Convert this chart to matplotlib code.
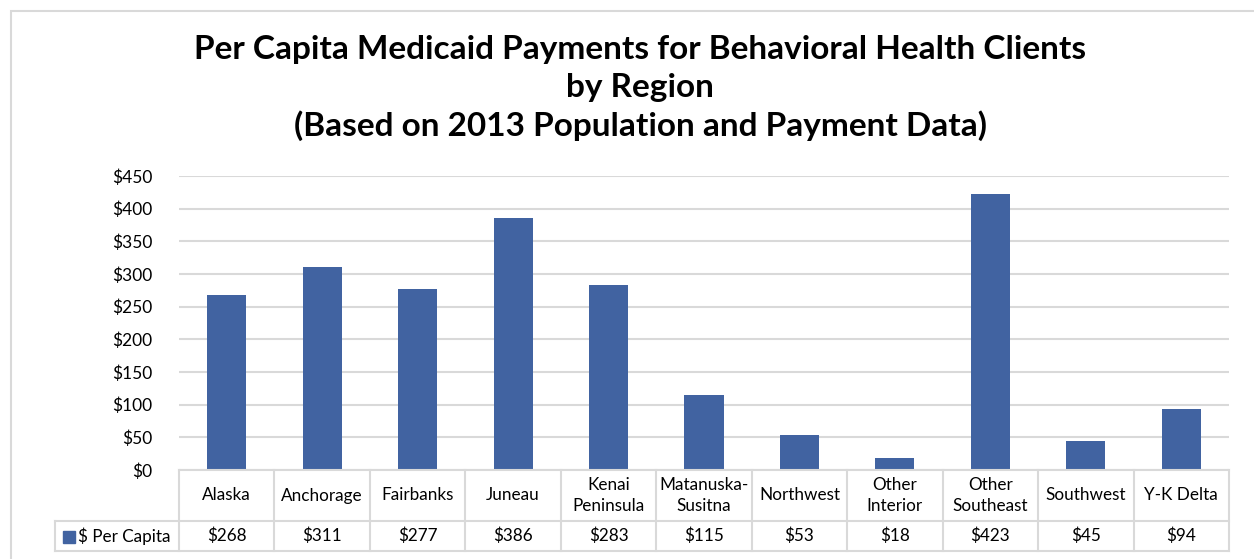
import matplotlib
matplotlib.use("Agg")
import matplotlib.pyplot as plt
from matplotlib.patches import Rectangle
from matplotlib.lines import Line2D

categories = ["Alaska", "Anchorage", "Fairbanks", "Juneau", "Kenai\nPeninsula",
              "Matanuska-\nSusitna", "Northwest", "Other\nInterior", "Other\nSoutheast",
              "Southwest", "Y-K Delta"]
values = [268, 311, 277, 386, 283, 115, 53, 18, 423, 45, 94]
series_name = "$ Per Capita"
yticks = [0, 50, 100, 150, 200, 250, 300, 350, 400, 450]

W, H = 1254, 559
BAR = "#4163A1"
GRID = "#d9d9d9"
FONT = ["Lato", "DejaVu Sans"]
plt.rcParams["font.family"] = FONT

fig = plt.figure(figsize=(W / 100, H / 100), dpi=100)

def fx(px):
    return px / W

def fy(py):
    return 1 - py / H

# outer chart border
fig.patches.append(Rectangle((fx(11), fy(575)), fx(1270) - fx(11), fy(11) - fy(575),
                             transform=fig.transFigure, fill=False, edgecolor=GRID, lw=1.5))

L, R, T, B = 179, 1229, 176, 470
ax = fig.add_axes([fx(L), fy(B), fx(R) - fx(L), fy(T) - fy(B)])
x = list(range(len(categories)))
ax.bar(x, values, width=0.41, color=BAR, zorder=3)
ax.set_xlim(-0.5, len(categories) - 0.5)
ax.set_ylim(0, 450)
ax.set_yticks(yticks)
ax.set_yticklabels([f"${v}" for v in yticks], fontsize=12.5)
ax.tick_params(axis="y", length=0, pad=19)
ax.set_xticks([])
for s in ax.spines.values():
    s.set_visible(False)
ax.yaxis.grid(True, color=GRID, lw=1.5, zorder=0)

title_kw = dict(ha="center", va="center", fontsize=24, fontweight="bold")
tx = fx(640)
fig.text(tx, fy(50), "Per Capita Medicaid Payments for Behavioral Health Clients", **title_kw)
fig.text(tx, fy(88), "by Region", **title_kw)
fig.text(tx, fy(126), "(Based on 2013 Population and Payment Data)", **title_kw)

# data table
colw = (R - L) / len(categories)
row1_top, row1_bot, row2_bot = 470, 521, 551
legend_left = 55

def hline(x0, x1, y):
    fig.lines.append(Line2D([fx(x0), fx(x1)], [fy(y), fy(y)], transform=fig.transFigure,
                            color=GRID, lw=1.5))

def vline(xp, y0, y1):
    fig.lines.append(Line2D([fx(xp), fx(xp)], [fy(y0), fy(y1)], transform=fig.transFigure,
                            color=GRID, lw=1.5))

hline(L, R, row1_top)
hline(legend_left, R, row1_bot)
hline(legend_left, R, row2_bot)
vline(legend_left, row1_bot, row2_bot)
for i in range(len(categories) + 1):
    vline(L + i * colw, row1_top, row2_bot)

for i, (c, v) in enumerate(zip(categories, values)):
    cx = L + (i + 0.5) * colw
    fig.text(fx(cx), fy((row1_top + row1_bot) / 2), c, ha="center", va="center",
             fontsize=12.3, linespacing=1.45)
    fig.text(fx(cx), fy((row1_bot + row2_bot) / 2), f"${v}", ha="center", va="center",
             fontsize=12.3)

fig.patches.append(Rectangle((fx(63), fy(543)), fx(12), fy(531) - fy(543),
                             transform=fig.transFigure, color=BAR))
fig.text(fx(78), fy((row1_bot + row2_bot) / 2), series_name, ha="left", va="center", fontsize=12.3)

fig.savefig("out.png", dpi=100)
